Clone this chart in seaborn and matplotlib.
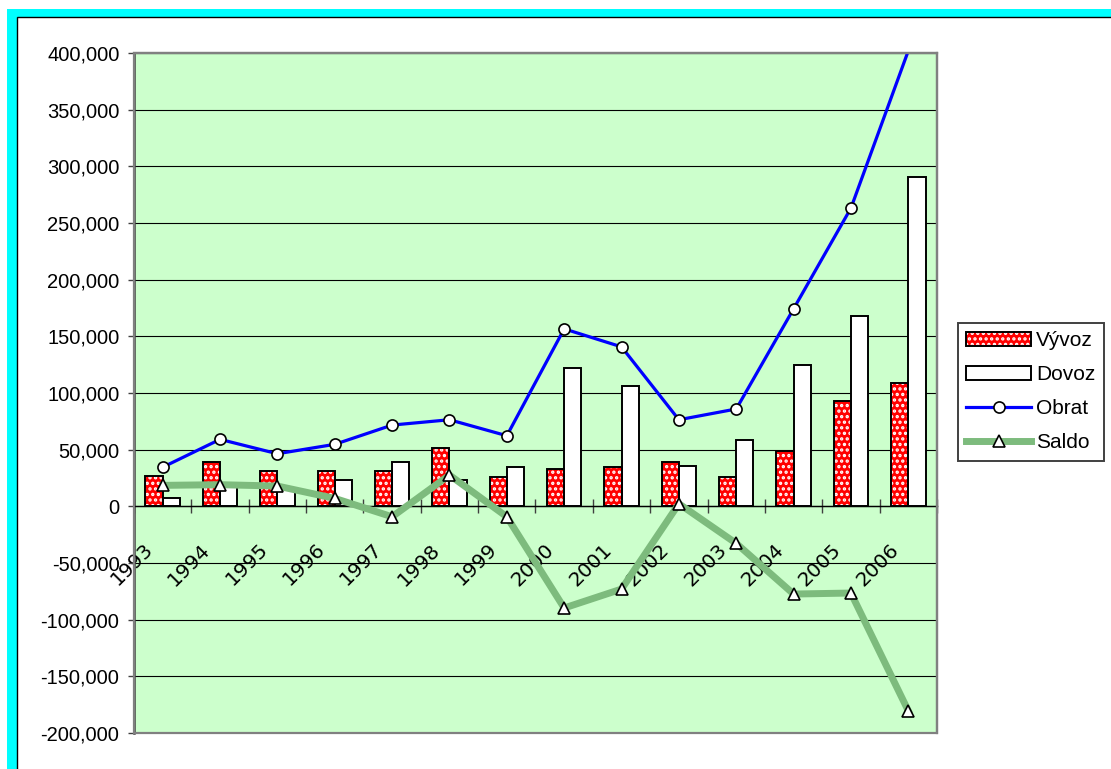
import numpy as np
import pandas as pd
import seaborn as sns
import matplotlib.pyplot as plt
from matplotlib.patches import Rectangle, Patch
from matplotlib.lines import Line2D
from matplotlib.legend_handler import HandlerTuple
from matplotlib.ticker import FuncFormatter, FixedLocator
import matplotlib.transforms as mtransforms

years = ["1993", "1994", "1995", "1996", "1997", "1998", "1999",
         "2000", "2001", "2002", "2003", "2004", "2005", "2006"]
vyvoz = [26500, 39300, 31400, 31400, 31400, 51700, 26100,
         32600, 34400, 38800, 26100, 48500, 92900, 109100]
dovoz = [7300, 19800, 15000, 23500, 39300, 23500, 34400,
         121700, 106100, 35800, 58200, 124900, 168000, 290600]
obrat = [34500, 59100, 46400, 54700, 71700, 76400, 62300,
         156600, 140700, 76400, 85900, 174300, 263200, 402000]
saldo = [18500, 19100, 17900, 7000, -9200, 27600, -9200,
         -89700, -73000, 2300, -32700, -77400, -76500, -180500]

y_min, y_max = -200000, 400000

plt.rcParams["font.family"] = ["Liberation Sans", "DejaVu Sans"]
plt.rcParams["hatch.linewidth"] = 1.6

W, H = 1111, 769
fig = plt.figure(figsize=(W / 100, H / 100), dpi=100)

# cyan outer frame + white chart area
fig.patches.append(Rectangle((7 / W, -0.1), 2, 1 - 9 / H + 0.1, transform=fig.transFigure,
                             fc="#00FFFF", ec="none", zorder=-2))
fig.patches.append(Rectangle((17 / W, -0.1), 2, 1 - 17 / H + 0.1, transform=fig.transFigure,
                             fc="white", ec="black", lw=1, zorder=-1))

ax = fig.add_axes([134 / W, 1 - 733 / H, (937 - 134) / W, (733 - 53) / H])
ax.set_facecolor("#CCFFCC")

bars = pd.DataFrame({"Rok": years * 2,
                     "Rada": ["Vývoz"] * len(years) + ["Dovoz"] * len(years),
                     "Hodnota": vyvoz + dovoz})
sns.barplot(data=bars, x="Rok", y="Hodnota", hue="Rada", hue_order=["Vývoz", "Dovoz"],
            palette={"Vývoz": "#FF0000", "Dovoz": "white"}, width=0.6, gap=0,
            saturation=1, order=years, legend=False, ax=ax, zorder=2)

# red bars: white dotted pattern, then black outlines on every bar
for p in ax.containers[0]:
    p.set_hatch("...")
    p.set_edgecolor("white")
    p.set_linewidth(0)
for cont in ax.containers[:2]:
    for p in cont:
        ax.add_patch(Rectangle(p.get_xy(), p.get_width(), p.get_height(), fill=False,
                               ec="black", lw=1.4, zorder=3))

lines = pd.DataFrame({"Rok": years, "Obrat": obrat, "Saldo": saldo})
shown = [i for i, v in enumerate(obrat) if v <= y_max]
sns.lineplot(data=lines, x="Rok", y="Saldo", color="#7DBB7D", lw=5, marker="^", ms=9,
             mfc="white", mec="black", mew=1.2, ax=ax, zorder=4, sort=False)
sns.lineplot(data=lines, x="Rok", y="Obrat", color="#0000FF", lw=2.3, marker="o", ms=8,
             mfc="white", mec="black", mew=1.2, markevery=shown, ax=ax, zorder=5, sort=False)

ax.set_ylim(y_min, y_max)
ax.set_xlim(-0.5, len(years) - 0.5)
ax.set_yticks(np.arange(y_min, y_max + 1, 50000))
ax.yaxis.set_major_formatter(FuncFormatter(lambda v, p: f"{v:,.0f}"))
ax.grid(axis="y", color="black", lw=0.8, zorder=1)
ax.set_axisbelow(True)
ax.set_xlabel("")
ax.set_ylabel("")

for s in ["top", "right"]:
    ax.spines[s].set_color("#808080")
    ax.spines[s].set_linewidth(1.6)
ax.spines["left"].set_color("#404040")
ax.spines["left"].set_linewidth(1.8)
ax.spines["bottom"].set_position(("data", 0))
ax.spines["bottom"].set_color("black")
ax.spines["bottom"].set_linewidth(1)
ax.add_patch(Rectangle((0, 0), 1, 1, transform=ax.transAxes, fill=False,
                       ec="#808080", lw=1.6, zorder=6, clip_on=False))

ax.tick_params(axis="y", labelsize=14.5, length=4.5, width=1, color="#404040", pad=6)
ax.xaxis.set_minor_locator(FixedLocator(np.arange(-0.5, len(years), 1)))
ax.tick_params(axis="x", which="major", length=0, pad=24, labelsize=14.5)
ax.tick_params(axis="x", which="minor", length=10, direction="inout", width=1, color="#404040")
shift = mtransforms.ScaledTranslation(-0.06, 0, fig.dpi_scale_trans)
for lab in ax.get_xticklabels():
    lab.set_rotation(45)
    lab.set_ha("right")
    lab.set_va("top")
    lab.set_fontfamily("DejaVu Sans")
    lab.set_transform(lab.get_transform() + shift)

handles = [
    (Patch(fc="#FF0000", ec="white", hatch="...", lw=0), Patch(fill=False, ec="black", lw=1.4)),
    Patch(fc="white", ec="black", lw=1.4),
    Line2D([], [], color="#0000FF", lw=2.3, marker="o", ms=8, mfc="white", mec="black", mew=1.2),
    Line2D([], [], color="#7DBB7D", lw=5, marker="^", ms=9, mfc="white", mec="black", mew=1.2),
]
leg = fig.legend(handles, ["Vývoz", "Dovoz", "Obrat", "Saldo"],
                 handler_map={tuple: HandlerTuple(ndivide=1, pad=0)},
                 loc="upper left", bbox_to_anchor=(958 / W, 1 - 323 / H),
                 bbox_transform=fig.transFigure, borderaxespad=0, fontsize=15,
                 handlelength=3.1, handletextpad=0.25, labelspacing=0.72,
                 borderpad=0.4, fancybox=False, framealpha=1, edgecolor="#404040")
leg.get_frame().set_linewidth(1.4)

fig.savefig("out.png", dpi=100)
